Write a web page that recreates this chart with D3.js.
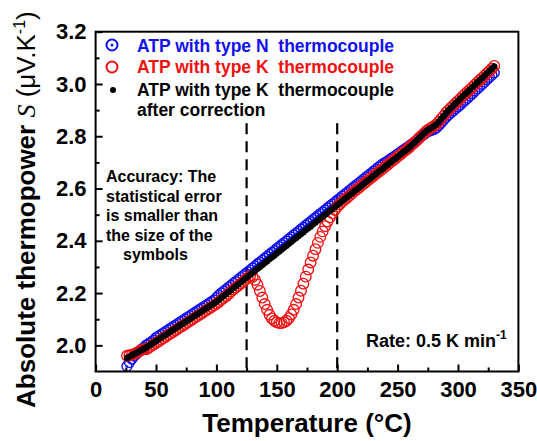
<!DOCTYPE html>
<html>
<head>
<meta charset="utf-8">
<script src="https://cdn.jsdelivr.net/npm/d3@7"></script>
<style>
  body { margin: 0; background: #fff; }
  svg { display: block; font-family: "Liberation Sans", Arial, sans-serif; }
</style>
</head>
<body>
<svg id="chart" width="537" height="441"></svg>
<script>
// Temperatures of the measurement points (°C)
const temps = [26,28,30,32,34,36,38,40,42,44,46,48,50,52,54,56,58,60,62,64,66,68,70,72,74,76,78,80,82,84,86,88,90,92,94,96,98,100,
  102,104,106,108,110,112,114,116,118,120,122,124,126,128,130,132,134,136,138,140,142,144,146,148,150,152,154,156,158,160,162,164,166,168,170,172,174,176,178,180,182,184,186,188,190,192,194,196,198,200,
  202,204,206,208,210,212,214,216,218,220,222,224,226,228,230,232,234,236,238,240,242,244,246,248,250,252,254,256,258,260,262,264,266,268,270,272,274,276,278,280,282,284,286,288,290,292,294,296,298,300,
  302,304,306,308,310,312,314,316,318,320,322,324,326,328,330];

// Absolute thermopower measured with the type N thermocouple (µV/K)
const sNtype = [1.920,1.935,1.948,1.959,1.968,1.977,1.985,1.992,2.001,2.007,2.013,2.019,2.029,2.035,2.041,2.047,2.053,2.059,2.065,2.071,2.077,2.083,2.089,2.095,2.101,2.107,2.113,2.119,2.125,2.131,2.137,2.143,2.149,2.155,2.161,2.167,2.173,2.182,
  2.192,2.200,2.207,2.214,2.222,2.229,2.237,2.244,2.251,2.259,2.266,2.274,2.281,2.288,2.296,2.303,2.311,2.318,2.325,2.333,2.340,2.348,2.355,2.362,2.370,2.377,2.385,2.392,2.399,2.407,2.414,2.422,2.429,2.436,2.444,2.451,2.459,2.466,2.473,2.481,2.488,2.496,2.503,2.510,2.518,2.525,2.533,2.540,2.547,2.555,
  2.562,2.570,2.577,2.584,2.592,2.599,2.607,2.614,2.621,2.629,2.636,2.644,2.651,2.658,2.666,2.673,2.681,2.688,2.695,2.700,2.706,2.713,2.719,2.725,2.732,2.738,2.745,2.751,2.757,2.764,2.771,2.777,2.785,2.793,2.801,2.808,2.815,2.819,2.823,2.826,2.832,2.841,2.851,2.861,2.872,2.881,2.889,2.897,2.905,2.913,
  2.921,2.930,2.938,2.946,2.955,2.964,2.973,2.982,2.990,2.999,3.008,3.017,3.026,3.034,3.043];

// Absolute thermopower measured with the type K thermocouple (µV/K)
const sKtype = [1.960,1.962,1.964,1.967,1.972,1.977,1.982,1.985,1.985,1.991,1.997,2.003,2.009,2.015,2.021,2.027,2.033,2.039,2.045,2.051,2.057,2.063,2.069,2.075,2.081,2.087,2.093,2.099,2.105,2.111,2.117,2.123,2.129,2.135,2.141,2.147,2.153,2.159,
  2.166,2.174,2.181,2.188,2.196,2.206,2.214,2.221,2.228,2.236,2.243,2.251,2.259,2.266,2.262,2.250,2.232,2.208,2.183,2.158,2.136,2.117,2.103,2.094,2.088,2.085,2.085,2.088,2.094,2.104,2.118,2.136,2.158,2.183,2.209,2.236,2.263,2.290,2.317,2.343,2.368,2.392,2.415,2.436,2.456,2.474,2.490,2.505,2.518,2.530,
  2.540,2.549,2.557,2.564,2.572,2.581,2.589,2.596,2.603,2.611,2.618,2.626,2.633,2.640,2.648,2.655,2.663,2.670,2.677,2.685,2.692,2.700,2.707,2.714,2.722,2.729,2.737,2.744,2.751,2.759,2.768,2.776,2.785,2.794,2.803,2.812,2.821,2.827,2.833,2.838,2.845,2.855,2.866,2.877,2.889,2.899,2.908,2.917,2.926,2.935,
  2.944,2.953,2.962,2.970,2.979,2.988,2.997,3.006,3.014,3.023,3.032,3.041,3.050,3.058,3.069];

// Type K values after correction (µV/K)
const sKcorrected = [1.952,1.957,1.962,1.967,1.972,1.977,1.982,1.987,1.993,1.999,2.005,2.011,2.017,2.023,2.029,2.035,2.041,2.047,2.053,2.059,2.065,2.071,2.077,2.083,2.089,2.095,2.101,2.107,2.113,2.119,2.125,2.131,2.137,2.143,2.149,2.155,2.161,2.167,
  2.174,2.182,2.189,2.196,2.204,2.211,2.219,2.226,2.233,2.241,2.248,2.256,2.263,2.270,2.278,2.285,2.293,2.300,2.307,2.315,2.322,2.330,2.337,2.344,2.352,2.359,2.367,2.374,2.381,2.389,2.396,2.404,2.411,2.418,2.426,2.433,2.441,2.448,2.455,2.463,2.470,2.478,2.485,2.492,2.500,2.507,2.515,2.522,2.529,2.537,
  2.544,2.552,2.559,2.566,2.574,2.581,2.589,2.596,2.603,2.611,2.618,2.626,2.633,2.640,2.648,2.655,2.663,2.670,2.677,2.685,2.692,2.700,2.707,2.714,2.722,2.729,2.737,2.744,2.751,2.759,2.768,2.776,2.785,2.794,2.803,2.812,2.821,2.827,2.833,2.838,2.845,2.855,2.866,2.877,2.889,2.899,2.908,2.917,2.926,2.935,
  2.944,2.953,2.962,2.970,2.979,2.988,2.997,3.006,3.014,3.023,3.032,3.041,3.050,3.058,3.067];

const xTicks = [0, 50, 100, 150, 200, 250, 300, 350];
const xMinorTicks = [25, 75, 125, 175, 225, 275, 325];
const yTicks = [2.0, 2.2, 2.4, 2.6, 2.8, 3.0, 3.2];
const yMinorTicks = [2.1, 2.3, 2.5, 2.7, 2.9, 3.1];
const markerTemps = [125, 200];   // dashed guide lines
const markerTop = 2.85;

const legendLabels = ["ATP with type N  thermocouple", "ATP with type K  thermocouple", "ATP with type K  thermocouple"];
const legendExtra = "after correction";
const noteLines = ["Accuracy: The", "statistical error", "is smaller than", "the size of the", "symbols"];

const BLUE = "#1010f0", RED = "#f01010";

const svg = d3.select("#chart");
const x = d3.scaleLinear().domain([0, 350]).range([95.6, 518.4]);
const y = d3.scaleLinear().domain([1.9, 3.2]).range([371.5, 31.7]);

// dashed guide lines
svg.append("g").selectAll("line").data(markerTemps).join("line")
  .attr("x1", d => x(d)).attr("x2", d => x(d))
  .attr("y1", y(markerTop)).attr("y2", y(1.9))
  .attr("stroke", "#000").attr("stroke-width", 2.2).attr("stroke-dasharray", "11,7");

// series
const pts = arr => temps.map((t, i) => [t, arr[i]]);

const gN = svg.append("g");
gN.selectAll("circle.o").data(pts(sNtype)).join("circle").attr("class", "o")
  .attr("cx", d => x(d[0])).attr("cy", d => y(d[1])).attr("r", 5)
  .attr("fill", "none").attr("stroke", BLUE).attr("stroke-width", 1.4);
gN.selectAll("circle.c").data(pts(sNtype)).join("circle").attr("class", "c")
  .attr("cx", d => x(d[0])).attr("cy", d => y(d[1])).attr("r", 1.1)
  .attr("fill", BLUE);

svg.append("g").selectAll("circle").data(pts(sKtype)).join("circle")
  .attr("cx", d => x(d[0])).attr("cy", d => y(d[1])).attr("r", 5.3)
  .attr("fill", "none").attr("stroke", RED).attr("stroke-width", 1.3);

svg.append("g").selectAll("circle").data(pts(sKcorrected)).join("circle")
  .attr("cx", d => x(d[0])).attr("cy", d => y(d[1])).attr("r", 3.2)
  .attr("fill", "#000");

// axes (ticks pointing inward)
function styleAxis(g) {
  g.select(".domain").remove();
  g.selectAll(".tick line").attr("stroke", "#000").attr("stroke-width", 2);
  g.selectAll(".tick text").attr("fill", "#000").attr("font-size", 22).attr("font-weight", "bold")
    .attr("font-family", "'Liberation Sans', Arial, sans-serif");
}
svg.append("g").attr("transform", `translate(0,${y(1.9)})`)
  .call(d3.axisBottom(x).tickValues(xTicks).tickSize(-7).tickPadding(10).tickFormat(d3.format("d")))
  .call(styleAxis);
svg.append("g").attr("transform", `translate(0,${y(1.9)})`)
  .call(d3.axisBottom(x).tickValues(xMinorTicks).tickSize(-4).tickFormat(""))
  .call(styleAxis);
svg.append("g").attr("transform", `translate(${x(0)},0)`)
  .call(d3.axisLeft(y).tickValues(yTicks).tickSize(-7).tickPadding(9).tickFormat(d3.format(".1f")))
  .call(styleAxis);
svg.append("g").attr("transform", `translate(${x(0)},0)`)
  .call(d3.axisLeft(y).tickValues(yMinorTicks).tickSize(-4).tickFormat(""))
  .call(styleAxis);

// frame
svg.append("rect")
  .attr("x", x(0)).attr("y", y(3.2))
  .attr("width", x(350) - x(0)).attr("height", y(1.9) - y(3.2))
  .attr("fill", "none").attr("stroke", "#000").attr("stroke-width", 2);

// axis titles
svg.append("text")
  .attr("x", (x(0) + x(350)) / 2).attr("y", 432)
  .attr("text-anchor", "middle").attr("font-size", 26).attr("font-weight", "bold")
  .text("Temperature (°C)");

const yt = svg.append("text")
  .attr("transform", `translate(35,${(y(1.9) + y(3.2)) / 2 + 8}) rotate(-90)`)
  .attr("text-anchor", "middle").attr("font-size", 26);
yt.append("tspan").attr("font-weight", "bold").text("Absolute thermopower ");
yt.append("tspan").attr("font-family", "'Liberation Serif', 'Times New Roman', serif").attr("font-style", "italic").text("S");
yt.append("tspan").text(" (μV.K");
yt.append("tspan").attr("font-size", 16).attr("dy", -10).text("-1");
yt.append("tspan").attr("dy", 10).text(")");

// legend
const legendRows = [
  { color: BLUE, yText: 52, yMark: 45, kind: "dot-circle" },
  { color: RED, yText: 73, yMark: 67, kind: "circle" },
  { color: "#000", yText: 96, yMark: 90, kind: "dot" }
];
const lg = svg.append("g").attr("font-size", 17.5).attr("font-weight", "bold");
legendRows.forEach((r, i) => {
  if (r.kind === "dot") {
    lg.append("circle").attr("cx", 113).attr("cy", r.yMark).attr("r", 3).attr("fill", "#000");
  } else {
    lg.append("circle").attr("cx", 112).attr("cy", r.yMark).attr("r", 5.5)
      .attr("fill", "none").attr("stroke", r.color).attr("stroke-width", 2);
    if (r.kind === "dot-circle")
      lg.append("circle").attr("cx", 112).attr("cy", r.yMark).attr("r", 1.5).attr("fill", r.color);
  }
  lg.append("text").attr("x", 137).attr("y", r.yText).attr("fill", r.color)
    .attr("xml:space", "preserve").style("white-space", "pre").text(legendLabels[i]);
});
lg.append("text").attr("x", 137).attr("y", 116).attr("fill", "#000").text(legendExtra);

// accuracy note
const noteX = [106, 106, 106, 106, 123];
const noteY = [182, 201.5, 221, 240.5, 260];
svg.append("g").attr("font-size", 16).attr("font-weight", "bold")
  .selectAll("text").data(noteLines).join("text")
  .attr("x", (d, i) => noteX[i]).attr("y", (d, i) => noteY[i]).text(d => d);

// heating rate
const rt = svg.append("text").attr("x", 366).attr("y", 347).attr("font-size", 18).attr("font-weight", "bold");
rt.append("tspan").text("Rate: 0.5 K min");
rt.append("tspan").attr("font-size", 12).attr("dy", -8).text("-1");
</script>
</body>
</html>
